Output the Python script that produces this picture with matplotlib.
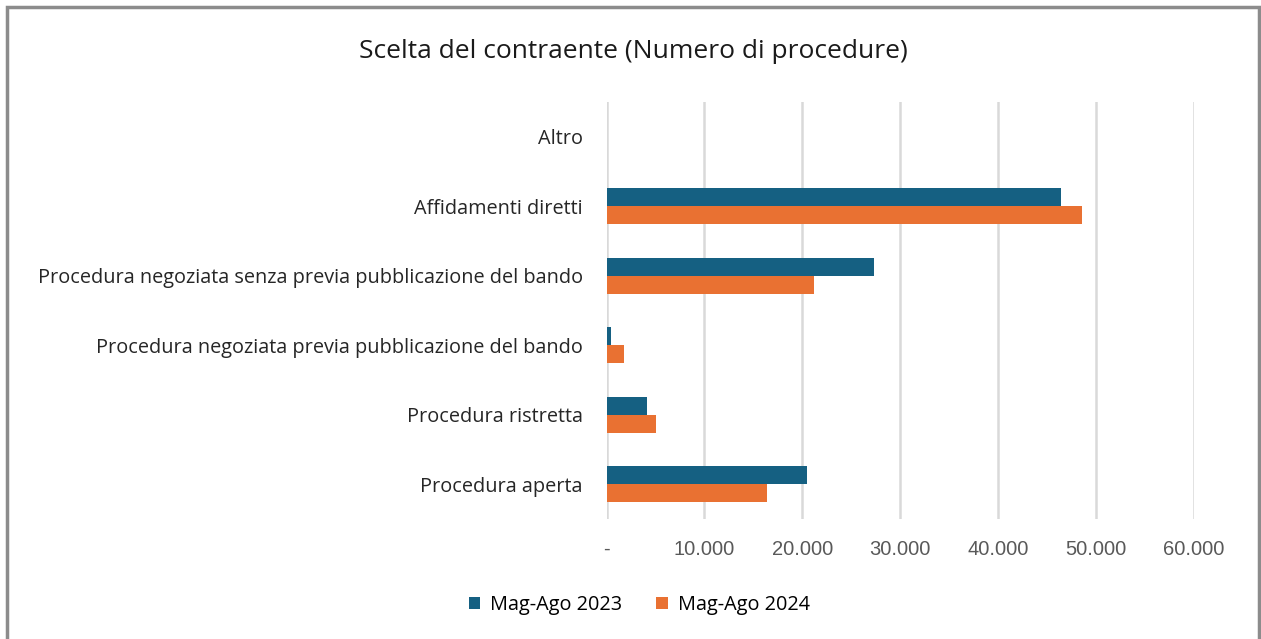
import matplotlib.pyplot as plt
from matplotlib.patches import Rectangle
from matplotlib.ticker import FuncFormatter
import numpy as np

categories = ["Altro", "Affidamenti diretti",
              "Procedura negoziata senza previa pubblicazione del bando",
              "Procedura negoziata previa pubblicazione del bando",
              "Procedura ristretta", "Procedura aperta"]
val_2023 = [0, 46400, 27300, 480, 4130, 20500]
val_2024 = [0, 48500, 21200, 1770, 5090, 16400]
series = ["Mag-Ago 2023", "Mag-Ago 2024"]
x_ticks = [0, 10000, 20000, 30000, 40000, 50000, 60000]

plt.rcParams['font.family'] = ['Open Sans', 'DejaVu Sans']

fig = plt.figure(figsize=(12.61, 6.39), dpi=100)
ax = fig.add_axes([0.481, 0.188, 0.466, 0.652])

# frame around the whole chart
fig.patches.append(Rectangle((7 / 1261, -0.1), 1252 / 1261, 1 - 7 / 639 + 0.1,
                             transform=fig.transFigure, fill=False,
                             edgecolor='#8c8c8c', linewidth=2.5))

y = np.arange(len(categories))
h = 0.26
ax.barh(y - h / 2, val_2023, height=h, color='#156082', label=series[0], zorder=3)
ax.barh(y + h / 2, val_2024, height=h, color='#E97132', label=series[1], zorder=3)

ax.set_ylim(len(categories) - 0.5, -0.5)
ax.set_yticks(y)
ax.set_yticklabels(categories, fontsize=14.3, color='#262626')
ax.set_xlim(0, 60000)
ax.set_xticks(x_ticks)
ax.xaxis.set_major_formatter(FuncFormatter(
    lambda v, p: '-' if v == 0 else f"{int(v):,}".replace(',', '.')))
ax.tick_params(axis='x', labelsize=14.5, labelcolor='#595959', length=0, pad=15)
ax.tick_params(axis='y', length=0, pad=17)
for lab in ax.get_xticklabels():
    lab.set_family(['Liberation Sans', 'DejaVu Sans'])

ax.grid(axis='x', color='#d9d9d9', linewidth=1.8, zorder=0)
for s in ax.spines.values():
    s.set_visible(False)

fig.text(0.502, 0.920, "Scelta del contraente (Numero di procedure)",
         ha='center', va='center', fontsize=19, color='#1a1a1a')

fig.legend(loc='center', bbox_to_anchor=(0.507, 0.053), ncol=2, frameon=False,
           fontsize=14.3, handlelength=0.6, handleheight=0.6,
           columnspacing=1.7, handletextpad=0.5)

plt.savefig('out.png', dpi=100)
